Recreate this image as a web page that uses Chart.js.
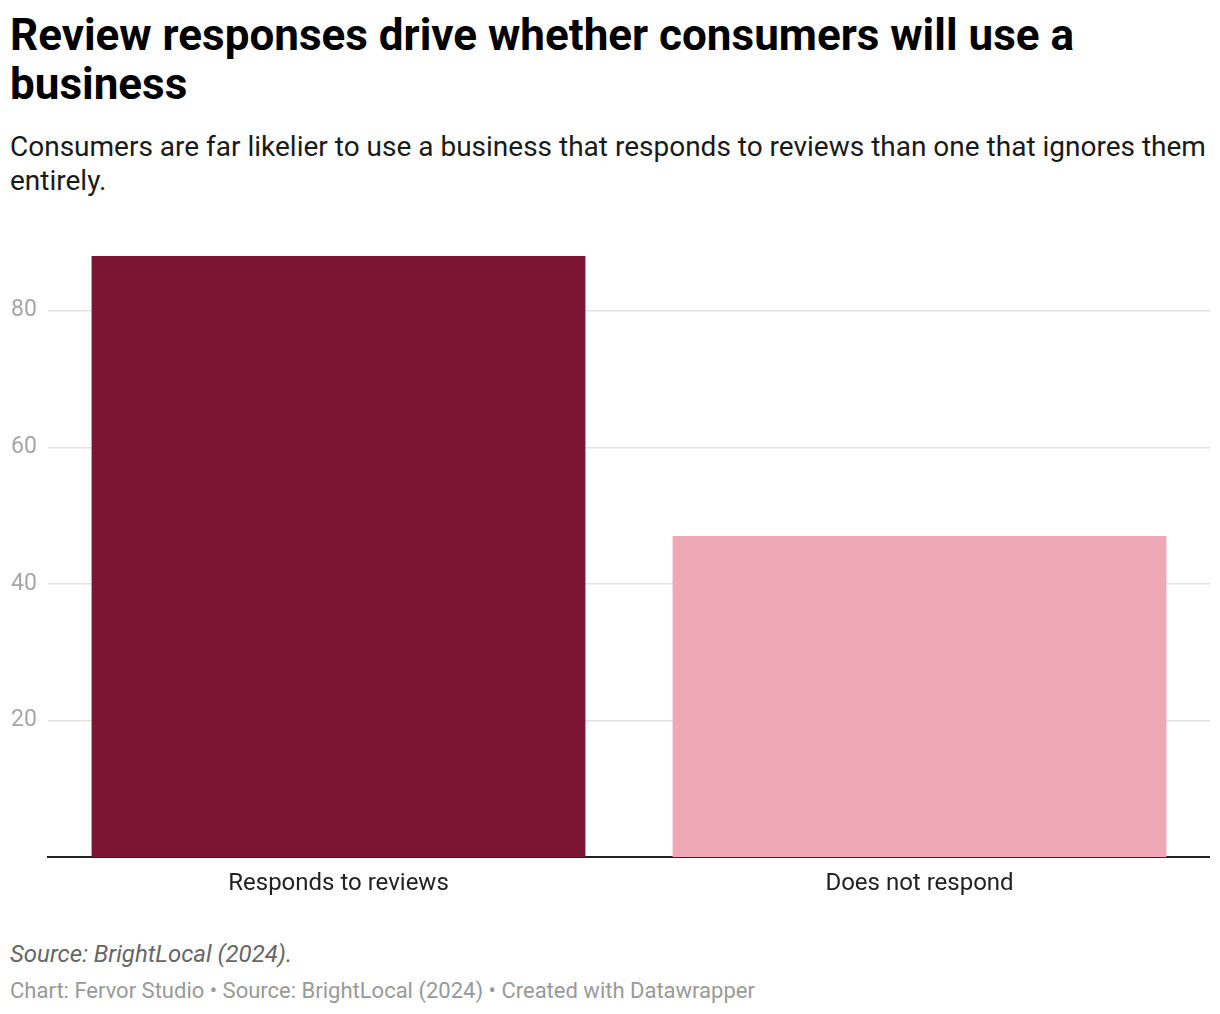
<!DOCTYPE html>
<html lang="en">
<head>
    <meta charset="UTF-8">
    <title>Review responses</title>
    <script src="https://cdn.jsdelivr.net/npm/chart.js"></script>
    <style>
        body {
            margin: 0;
            width: 1220px;
            height: 1014px;
            background: #fff;
            font-family: Roboto, sans-serif;
            position: relative;
            overflow: hidden;
        }
        #title {
            position: absolute;
            left: 10px;
            top: 11px;
            width: 1200px;
            margin: 0;
            font-size: 44px;
            font-weight: 700;
            line-height: 49px;
            color: #000;
        }
        #subtitle {
            position: absolute;
            left: 10px;
            top: 130px;
            width: 1205px;
            margin: 0;
            font-size: 28px;
            line-height: 34px;
            color: #1a1a1a;
        }
        #chartContainer {
            position: absolute;
            left: 11px;
            top: 230px;
            width: 1199px;
            height: 672px;
        }
        #source {
            position: absolute;
            left: 10px;
            top: 940px;
            font-size: 24px;
            font-style: italic;
            color: #666;
        }
        #credit {
            position: absolute;
            left: 10px;
            top: 978px;
            font-size: 22px;
            color: #999;
        }
    </style>
</head>
<body>
    <h1 id="title">Review responses drive whether consumers will use a business</h1>
    <p id="subtitle">Consumers are far likelier to use a business that responds to reviews than one that ignores them entirely.</p>
    <div id="chartContainer">
        <canvas id="reviewChart"></canvas>
    </div>
    <div id="source">Source: BrightLocal (2024).</div>
    <div id="credit">Chart: Fervor Studio • Source: BrightLocal (2024) • Created with Datawrapper</div>
    <script>
        const categories = ['Responds to reviews', 'Does not respond'];
        const values = [88, 47];
        const barColors = ['#7c1535', '#efa8b6'];
        const yTicks = [20, 40, 60, 80];

        const ctx = document.getElementById('reviewChart').getContext('2d');
        new Chart(ctx, {
            type: 'bar',
            data: {
                labels: categories,
                datasets: [{
                    data: values,
                    backgroundColor: barColors,
                    borderWidth: 0,
                    barPercentage: 0.85,
                    categoryPercentage: 1
                }]
            },
            options: {
                responsive: true,
                maintainAspectRatio: false,
                animation: false,
                layout: { padding: { top: 26, right: 0, bottom: 0, left: 0 } },
                plugins: {
                    legend: { display: false },
                    tooltip: { enabled: false }
                },
                scales: {
                    x: {
                        grid: { display: false },
                        border: { display: true, color: '#222', width: 2 },
                        ticks: {
                            color: '#222',
                            font: { family: 'Roboto', size: 24 },
                            padding: 4
                        }
                    },
                    y: {
                        min: 0,
                        max: 88,
                        afterBuildTicks: function(scale) {
                            scale.ticks = yTicks.map(v => ({ value: v }));
                        },
                        afterFit: function(scale) {
                            scale.width = 37; // plot starts at x=48
                        },
                        grid: { color: '#e2e2e2', lineWidth: 1.5, drawTicks: false },
                        border: { display: false },
                        ticks: {
                            color: '#a6a6a6',
                            crossAlign: 'far',
                            padding: 0,
                            font: { family: 'Roboto', size: 23 }
                        }
                    }
                }
            }
        });
    </script>
</body>
</html>
